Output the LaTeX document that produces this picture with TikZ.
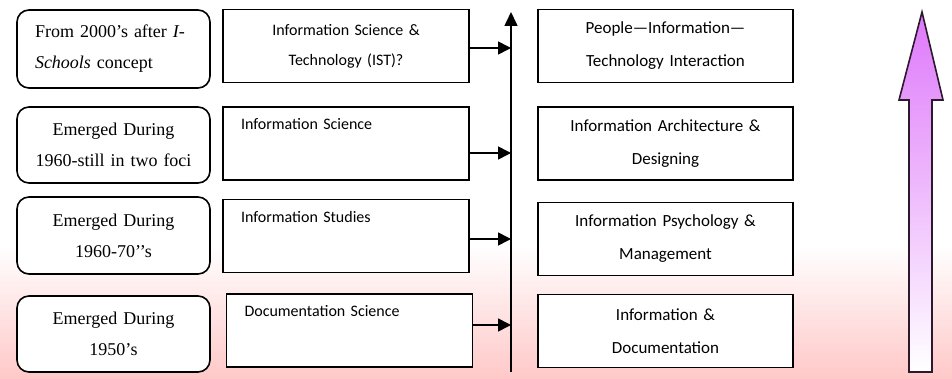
\documentclass[tikz,border=0pt]{standalone}
\usepackage{fontspec}
\setmainfont{Liberation Serif}
\newfontfamily\boxsans{Carlito}
\usetikzlibrary{arrows.meta}
\definecolor{bgpink}{RGB}{255,200,200}
\definecolor{upviolet}{RGB}{222,120,250}
\definecolor{upedge}{RGB}{45,25,45}
\tikzset{
  era/.style={draw,fill=white,line width=1.6pt,rounded corners=12pt,minimum width=193pt,inner xsep=10pt,text width=173pt,align=center,font=\fontsize{18}{31}\selectfont},
  field/.style={draw,fill=white,line width=1.6pt,minimum width=246pt,minimum height=73pt,inner xsep=18pt,text width=210pt,font=\boxsans\fontsize{16}{30}\selectfont},
  aspect/.style={draw,fill=white,line width=1.6pt,minimum width=255pt,minimum height=73pt,inner xsep=10pt,text width=235pt,align=center,font=\boxsans\fontsize{17}{33}\selectfont},
  feed/.style={line width=1.6pt,-{Triangle[length=13pt,width=13pt]}}
}
\newcommand{\era}[5]{\node[era,minimum height=#3pt,#4] (#1) at (113.5,#2) {#5};}
\newcommand{\field}[5]{\node[field,#4] (#1) at (#2,#3) {#5};}
\newcommand{\aspect}[3]{\node[aspect] (#1) at (665.5,#2) {#3};}
\newcommand{\feed}[3]{\coordinate (#2) at (511,#3); \draw[feed] (#1.east |- #2) -- (#2);}

\begin{document}
\begin{tikzpicture}[x=1pt,y=-1pt]
    \useasboundingbox (0,0) rectangle (952,379);
    \fill[white] (0,0) rectangle (952,245);
    \shade[top color=white,bottom color=bgpink] (0,245) rectangle (952,379);

    \era{e1}{49}{78}{inner xsep=18pt,text width=157pt,align=left}{From 2000’s after \textit{I-}\\\textit{Schools} concept}
    \era{e2}{145}{76}{}{Emerged During\\1960-still in two foci}
    \era{e3}{235.5}{77}{}{Emerged During\\1960-70’’s}
    \era{e4}{334}{76}{}{Emerged During\\1950’s}

    \field{m1}{346}{46}{align=center}{Information Science \&\\Technology (IST)?}
    \field{m2}{346}{143.5}{align=left}{Information Science\\\strut}
    \field{m3}{346}{236}{align=left}{Information Studies\\\strut}
    \field{m4}{349.5}{330.5}{align=left}{Documentation Science\\\strut}

    \aspect{a1}{46}{People—Information—\\Technology Interaction}
    \aspect{a2}{143.5}{Information Architecture \&\\Designing}
    \aspect{a3}{239}{Information Psychology \&\\Management}
    \aspect{a4}{331}{Information \&\\Documentation}

    \coordinate (base) at (511,372); \coordinate (peak) at (511,12);
    \draw[line width=1.6pt,-{Triangle[length=14pt,width=13pt]}] (base) -- (peak);
    \feed{m1}{h1}{48} \feed{m2}{h2}{153}
    \feed{m3}{h3}{239} \feed{m4}{h4}{325}

    \shade[top color=upviolet,middle color=upviolet!22,bottom color=white,draw=upedge,line width=1.6pt]
      (922,12) -- (943,100) -- (932,100) -- (932,372) -- (909,372) -- (909,100) -- (899,100) -- cycle;
\end{tikzpicture}
\end{document}
